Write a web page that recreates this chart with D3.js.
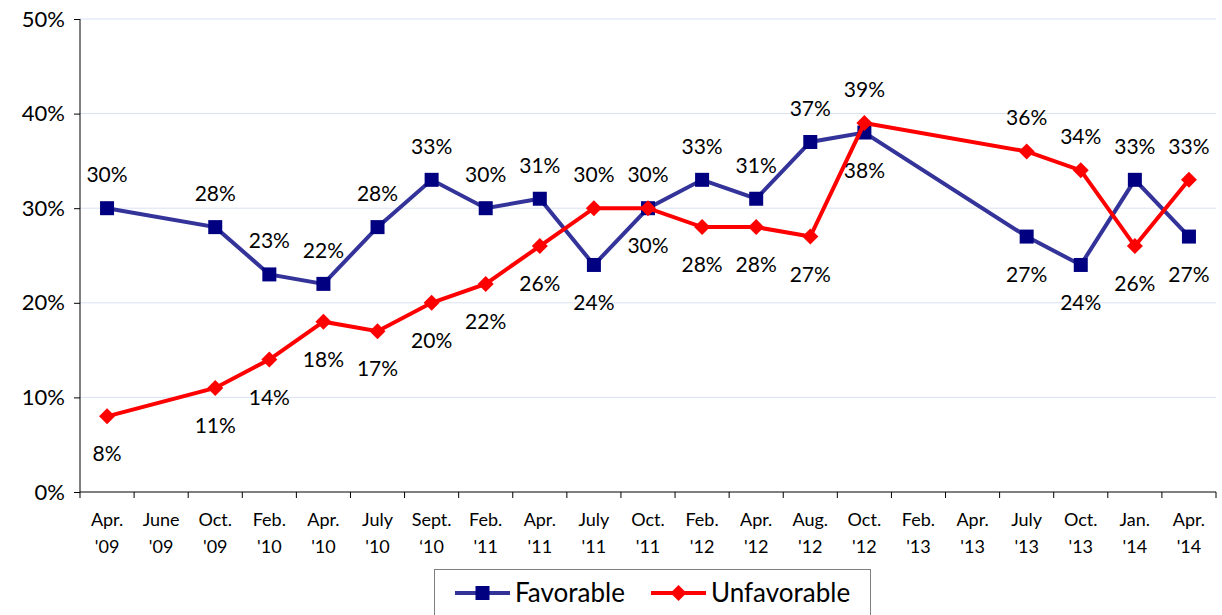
<!DOCTYPE html>
<html>
<head>
<meta charset="utf-8">
<script src="https://cdn.jsdelivr.net/npm/d3@7"></script>
<style>
  body { margin: 0; background: #fff; }
  text { font-family: Lato, "Open Sans", sans-serif; fill: #000; }
</style>
</head>
<body>
<div id="chart"></div>
<script>
var width = 1222;
var height = 615;

// categories (month, year line)
var months = ["Apr.", "June", "Oct.", "Feb.", "Apr.", "July", "Sept.", "Feb.", "Apr.", "July", "Oct.",
  "Feb.", "Apr.", "Aug.", "Oct.", "Feb.", "Apr.", "July", "Oct.", "Jan.", "Apr."];
var years = ["'09", "'09", "'09", "'10", "'10", "'10", "\u201810", "'11", "'11", "'11", "'11",
  "'12", "'12", "'12", "'12", "'13", "'13", "'13", "'13", "'14", "'14"];

var favorable = [30, null, 28, 23, 22, 28, 33, 30, 31, 24, 30, 33, 31, 37, 38, null, null, 27, 24, 33, 27];
var unfavorable = [8, null, 11, 14, 18, 17, 20, 22, 26, 30, 30, 28, 28, 27, 39, null, null, 36, 34, 26, 33];

// label side: 1 = above, -1 = below
var favSide = [1, 0, 1, 1, 1, 1, 1, 1, 1, -1, -1, 1, 1, 1, -1, 0, 0, -1, -1, 1, -1];
var unfSide = [-1, 0, -1, -1, -1, -1, -1, -1, -1, 1, 1, -1, -1, -1, 1, 0, 0, 1, 1, -1, 1];

var yTicks = [0, 10, 20, 30, 40, 50];

var margin = {left: 80, right: 6, top: 19, bottom: 123};

var svg = d3.select('#chart')
  .append('svg')
    .attr('width', width)
    .attr('height', height);

var x = d3.scaleBand()
  .domain(d3.range(months.length))
  .range([margin.left, width - margin.right])
  .padding(0);

var y = d3.scaleLinear()
  .domain([0, 50])
  .range([height - margin.bottom, margin.top]);

// gridlines
svg.append('g')
  .selectAll('line')
  .data(yTicks.filter(d => d > 0))
  .join('line')
    .attr('x1', margin.left)
    .attr('x2', width - margin.right)
    .attr('y1', d => y(d))
    .attr('y2', d => y(d))
    .attr('stroke', '#d9e1f2')
    .attr('stroke-width', 1);

// y axis
var yAxis = svg.append('g')
  .attr('transform', 'translate(' + margin.left + ',0)')
  .call(d3.axisLeft(y).tickValues(yTicks).tickFormat(d => d + '%').tickSize(6).tickPadding(9));
yAxis.select('.domain').attr('stroke', '#000').attr('d', 'M0,' + y(0) + 'V' + y(50));
yAxis.selectAll('.tick line').attr('stroke', '#000');
yAxis.selectAll('.tick text').attr('font-size', 22).style('font-family', 'Lato, sans-serif');

// x axis line and ticks between categories
var xg = svg.append('g');
xg.append('line')
  .attr('x1', margin.left).attr('x2', width - margin.right)
  .attr('y1', y(0)).attr('y2', y(0))
  .attr('stroke', '#000');
xg.selectAll('line.tk')
  .data(d3.range(months.length + 1))
  .join('line')
    .attr('class', 'tk')
    .attr('x1', i => i < months.length ? x(i) : x(months.length - 1) + x.bandwidth())
    .attr('x2', i => i < months.length ? x(i) : x(months.length - 1) + x.bandwidth())
    .attr('y1', y(0))
    .attr('y2', y(0) + 6)
    .attr('stroke', '#000');

var lbl = xg.selectAll('text.xl')
  .data(d3.range(months.length))
  .join('text')
    .attr('class', 'xl')
    .attr('text-anchor', 'middle')
    .attr('font-size', 18)
    .attr('x', i => x(i) + x.bandwidth() / 2);
lbl.append('tspan').attr('x', i => x(i) + x.bandwidth() / 2).attr('y', 526).text(i => months[i]);
lbl.append('tspan').attr('x', i => x(i) + x.bandwidth() / 2).attr('y', 553).text(i => years[i]);

var cx = i => x(i) + x.bandwidth() / 2;

function drawSeries(values, sides, lineColor, markerColor, shape) {
  var pts = values.map((v, i) => ({i: i, v: v, side: sides[i]})).filter(d => d.v !== null);
  var line = d3.line().x(d => cx(d.i)).y(d => y(d.v));
  svg.append('path')
    .datum(pts)
    .attr('fill', 'none')
    .attr('stroke', lineColor)
    .attr('stroke-width', 4)
    .attr('d', line);

  svg.append('g')
    .selectAll('path')
    .data(pts)
    .join('path')
      .attr('transform', d => 'translate(' + cx(d.i) + ',' + y(d.v) + ')')
      .attr('d', shape)
      .attr('fill', markerColor);

  svg.append('g')
    .selectAll('text')
    .data(pts)
    .join('text')
      .attr('text-anchor', 'middle')
      .attr('font-size', 21)
      .attr('x', d => cx(d.i))
      .attr('y', d => y(d.v) + (d.side > 0 ? -26 : 45))
      .text(d => d.v + '%');
}

var square = d3.symbol().type(d3.symbolSquare).size(196)();
var diamond = 'M0,-8L8,0L0,8L-8,0Z';

drawSeries(favorable, favSide, '#333399', '#000080', square);
drawSeries(unfavorable, unfSide, '#ff0000', '#ff0000', diamond);

// legend
var lg = svg.append('g');
lg.append('rect')
  .attr('x', 434.5).attr('y', 569.5)
  .attr('width', 436).attr('height', 60)
  .attr('fill', '#fff')
  .attr('stroke', '#7f7f7f');
var items = [
  {label: 'Favorable', color: '#333399', marker: '#000080', shape: square, x: 455},
  {label: 'Unfavorable', color: '#ff0000', marker: '#ff0000', shape: diamond, x: 651}
];
items.forEach(function(it) {
  lg.append('line')
    .attr('x1', it.x).attr('x2', it.x + 55)
    .attr('y1', 593).attr('y2', 593)
    .attr('stroke', it.color).attr('stroke-width', 4);
  lg.append('path')
    .attr('transform', 'translate(' + (it.x + 27.5) + ',593)')
    .attr('d', it.shape)
    .attr('fill', it.marker);
  lg.append('text')
    .attr('x', it.x + 60).attr('y', 602)
    .attr('font-size', 26)
    .text(it.label);
});
</script>
</body>
</html>
